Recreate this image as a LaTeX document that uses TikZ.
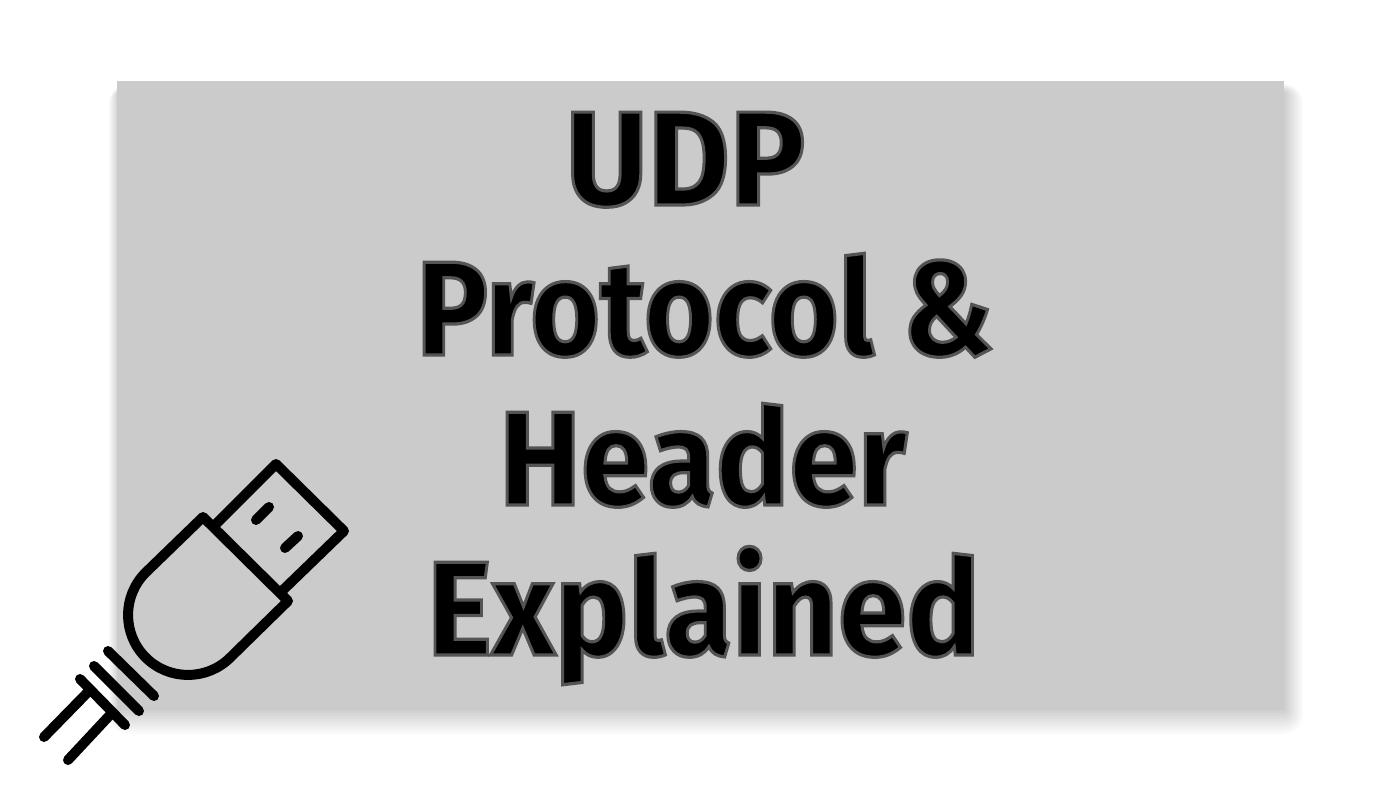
\documentclass[tikz,border=0pt]{standalone}
\usepackage{fontspec}
\usepackage{graphicx}
\setmainfont{Fira Sans}
\newcommand{\outlined}[2]{\scalebox{#1}[1]{\special{pdf:code q 2 Tr 3.2 w 0.33 0.33 0.33 RG 0 0 0 rg}\bfseries #2\special{pdf:code Q}}}
\tikzset{
  x=1pt,y=-1pt,
  titleline/.style={anchor=base,inner sep=0pt,font=\fontsize{134}{134}\selectfont},
  icon/.style={line width=10pt,line cap=round,line join=round,draw=black},
}
\begin{document}
\begin{tikzpicture}
\useasboundingbox (0,0) rectangle (1400,787);
\fill[white] (0,0) rectangle (1400,787);
% soft shadow
\foreach \g in {20,18,...,2}{
  \fill[black,opacity=0.018,rounded corners=\g pt] (119-\g*0.5,92-\g*0.4) rectangle (1283+\g,708+\g*1.3);
}
\node[fill={rgb,255:red,203;green,203;blue,203},minimum width=1167pt,minimum height=629pt,inner sep=0pt,anchor=north west] (panel) at (117,81) {};
\node[titleline] (l1) at (685.5,205) {\outlined{0.94}{UDP}};
\node[titleline] (l2) at (705,355) {\outlined{0.893}{Protocol \&}};
\node[titleline] (l3) at (703,505) {\outlined{0.92}{Header}};
\node[titleline] (l4) at (703.5,655) {\outlined{0.92}{Explained}};
% USB icon
\draw[icon] (217,523) -- (276,464) -- (344,531) -- (283,590);
\draw[icon] (203,517) -- (288,601) -- (230.4,657.4)
  .. controls (207,680.8) and (169,680.8) .. (145.6,657.4)
  .. controls (122.2,634) and (122.2,596) .. (145.6,572.6) -- cycle;
\draw[icon] (256,520) -- (269,507);
\draw[icon] (285,548) -- (298,536);
\draw[icon] (108,651) -- (154,696);
\draw[icon] (94,666) -- (139,711);
\draw[icon] (80,679) -- (125,725);
\draw[icon] (88,692) -- (44,737);
\draw[icon] (110,715) -- (68,760);
\end{tikzpicture}
\end{document}
